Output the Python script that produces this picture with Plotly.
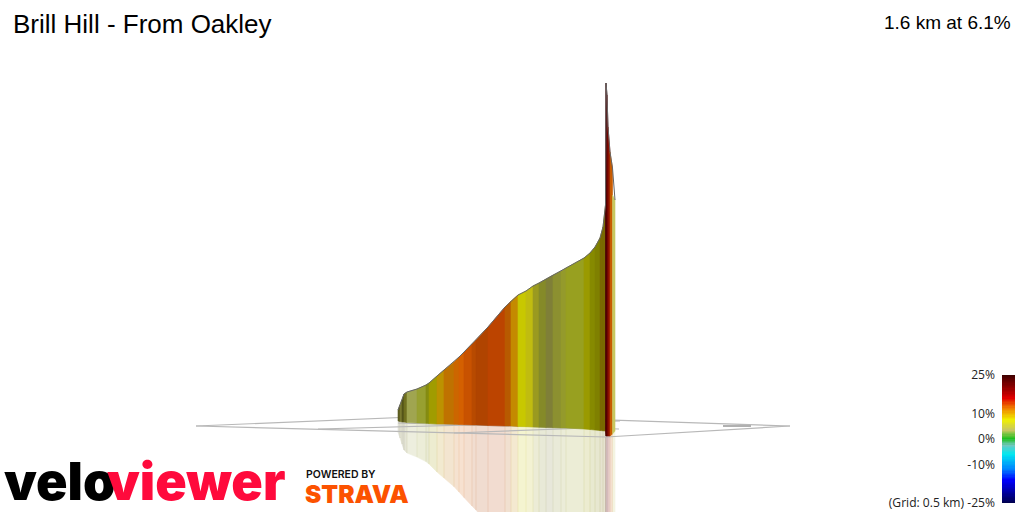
import numpy as np
import plotly.graph_objects as go

title_text = "Brill Hill - From Oakley"
stat_text = "1.6 km at 6.1%"

# Projected climb (pixel positions of the 3D view)
strip_edges = [398,400,402,404,407,417,426,429,437,444,454,459,464,472,476,488,505,511,518,526,533,539,546,553,561,566,584,590,595,600,603,605.5,606,607,608,610,612.5,615]
strip_tops = [410,405,400,394,392,389,385,383,376,370,362,357,352,344,340,327,307,301,295,291,286,283,279,275,271,268,258,253,247,238,227,205,83,95,127,152,168,200]
strip_bases = [421,421.5,422,422,422.5,423,423.3,423.5,424,424,424.3,424.5,424.7,425,425,425.5,426,426,426.5,426.7,427,427.2,427.5,427.7,428,428,429,429.5,430,430.5,430.8,431,436,436,436,436,434,431]
strip_colours = ["#5c5c20","#7a7a30","#55551a","#707020","#a0a550","#98a030","#858c10","#a09c00","#bc9200","#bf7200","#cc6600","#d46000","#c85200","#b84a00","#b04400","#bc4400","#b85a00","#c48a00","#c8c800","#c0bc10","#9a9a20","#858a28","#7f7f38","#8c9030","#949a2c","#98a020","#9a9a00","#868a00","#7f8000","#7a6a00","#7a6a00","#4a0000","#4a0000","#6a0000","#8a1000","#c85a00","#c8c860"]
# the orange strip's right side drops straight to the khaki strip
khaki_top_left = 195

grid_x = [196,460,None,460,790,None,790,606,None,606,196,None,318,620,None,454,613,None,398,619,None]
grid_y = [426,415,None,415,426,None,426,437,None,437,426,None,429,421,None,433,427,None,423,429,None]
grid_label_x = [723,751]
grid_label_y = [426,426]

# Gradient legend
legend_values = [-25,-21,-16,-12,-6,-2.5,0,3.5,7.5,12,16,20,25]
legend_colours = ["#000050","#0000a0","#0000ff","#0080ff","#00e8f0","#70c8c0","#20c020","#c8c860","#f0f000","#f08000","#e00000","#900000","#400000"]
legend_ticks = [25,10,0,-10,-25]
legend_labels = ["25%","10%","0%","-10%","(Grid: 0.5 km) -25%"]

fig = go.Figure()

def strip_polygon(i, mirrored):
    xs = [strip_edges[i], strip_edges[i+1]]
    t = [strip_tops[i], strip_tops[i+1]]
    if i == len(strip_colours) - 1:
        t[0] = khaki_top_left
    b = [strip_bases[i], strip_bases[i+1]]
    if mirrored:
        t = [2*b[0]-t[0], 2*b[1]-t[1]]
    return xs + xs[::-1] + [xs[0]], t + b[::-1] + [t[0]]

# reflection
for i, c in enumerate(strip_colours):
    x, y = strip_polygon(i, True)
    fig.add_trace(go.Scatter(x=x, y=y, mode="lines", fill="toself", fillcolor=c, opacity=0.18,
                             line=dict(width=0.6, color=c), hoverinfo="skip", showlegend=False))
# ground grid
fig.add_trace(go.Scatter(x=grid_x, y=grid_y, mode="lines", line=dict(color="#b8b8b8", width=1.2),
                         hoverinfo="skip", showlegend=False))
fig.add_trace(go.Scatter(x=grid_label_x, y=grid_label_y, mode="lines", line=dict(color="#b0b0b0", width=2),
                         hoverinfo="skip", showlegend=False))
# climb
for i, c in enumerate(strip_colours):
    x, y = strip_polygon(i, False)
    fig.add_trace(go.Scatter(x=x, y=y, mode="lines", fill="toself", fillcolor=c,
                             line=dict(width=0.6, color=c), hoverinfo="skip", showlegend=False))
# dark profile outline
fig.add_trace(go.Scatter(x=strip_edges, y=strip_tops, mode="lines", line=dict(color="#666666", width=1),
                         hoverinfo="skip", showlegend=False))

lo, hi = legend_values[0], legend_values[-1]
fig.add_trace(go.Heatmap(
    x=[0], y=np.arange(lo, hi + 0.5, 0.5), z=[[float(v)] for v in np.arange(lo, hi + 0.5, 0.5)],
    zmin=lo, zmax=hi, showscale=False, hoverinfo="skip",
    colorscale=[[(v - lo) / (hi - lo), c] for v, c in zip(legend_values, legend_colours)],
    xaxis="x2", yaxis="y2"))

fig.update_layout(
    width=1024, height=512, margin=dict(l=0, r=0, t=0, b=0, autoexpand=False),
    paper_bgcolor="white", plot_bgcolor="white", showlegend=False,
    title=dict(text=title_text, x=13/1024, xanchor="left", y=1-24/512, yanchor="middle",
               font=dict(family="Liberation Sans", size=26, color="#000000")),
    xaxis=dict(range=[0, 1024], visible=False, domain=[0, 1]),
    yaxis=dict(range=[512, 0], visible=False, domain=[0, 1]),
    xaxis2=dict(domain=[1002/1024, 1015/1024], anchor="y2", visible=False, range=[-0.5, 0.5]),
    yaxis2=dict(domain=[9/512, 137/512], anchor="x2", range=[lo, hi], tickvals=legend_ticks, ticktext=legend_labels,
                ticks="", showgrid=False, zeroline=False, showline=False, side="left", ticklabelstandoff=6,
                tickfont=dict(family="Open Sans", size=12.1, color="#222222")),
    annotations=[
        dict(text=stat_text, xref="x", yref="y", x=1013, y=22, xanchor="right", yanchor="middle", showarrow=False,
             font=dict(family="Liberation Sans", size=19, color="#000000")),
        dict(text="velo", xref="x", yref="y", x=3, y=481, xanchor="left", yanchor="middle", showarrow=False, borderpad=0,
             font=dict(family="Inter", size=52, color="#000000", weight=900)),
        dict(text="viewer", xref="x", yref="y", x=286, y=481, xanchor="right", yanchor="middle", showarrow=False, borderpad=0,
             font=dict(family="Inter", size=52, color="#ff0a3c", weight=900)),
        dict(text="POWERED BY", xref="x", yref="y", x=304, y=474, xanchor="left", yanchor="middle", showarrow=False,
             font=dict(family="Inter", size=10.5, color="#111111", weight=600)),
        dict(text="STRAVA", xref="x", yref="y", x=303, y=494, xanchor="left", yanchor="middle", showarrow=False,
             font=dict(family="Inter", size=24.5, color="#fc5200", weight=900)),
    ],
)
fig.write_html("out.html", config={"displayModeBar": False}, post_script="document.body.style.margin='0';")
